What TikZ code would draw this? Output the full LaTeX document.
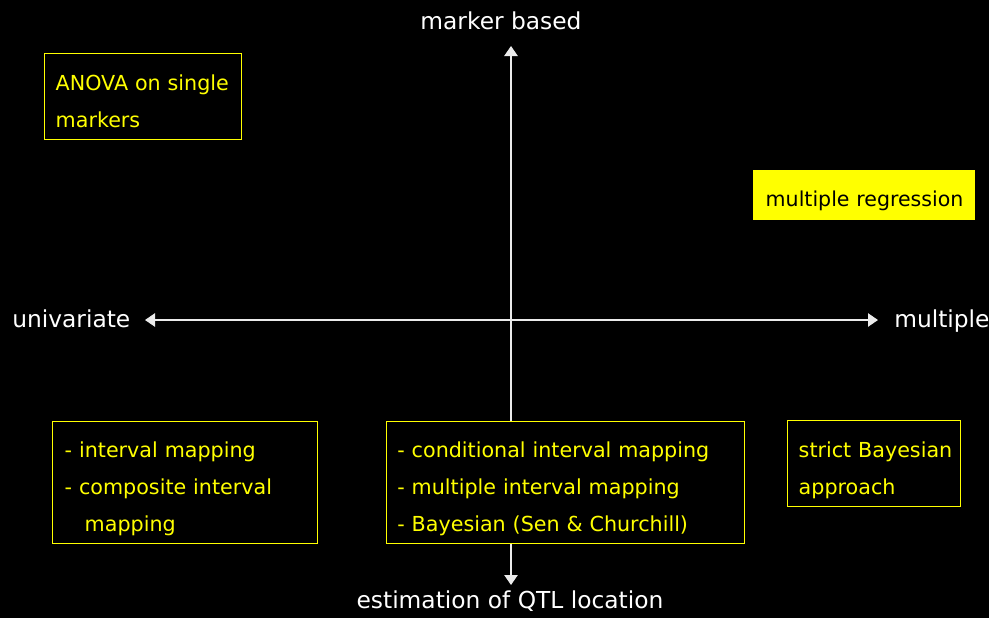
\documentclass[tikz,border=0pt]{standalone}
\usepackage{fontspec}
\setmainfont{DejaVu Sans}
\usetikzlibrary{arrows.meta}
\definecolor{ylw}{RGB}{255,255,0}
\definecolor{axisgray}{RGB}{235,235,235}
\tikzset{
  axisline/.style={draw=axisgray, line width=1.1pt, {Triangle[width=10pt,length=7.5pt]}-{Triangle[width=10pt,length=7.5pt]}},
  axislabel/.style={text=white, inner sep=0pt, font=\fontsize{17.5pt}{20pt}\selectfont},
  ybox/.style={draw=ylw, line width=1.1pt, fill=black, text=ylw, anchor=north west, align=left,
    inner ysep=0pt, font=\fontsize{15.5pt}{27.5pt}\selectfont},
  yfill/.style={draw=ylw, line width=1.1pt, fill=ylw, text=black, anchor=north west, align=left,
    inner ysep=0pt, font=\fontsize{15.4pt}{27.5pt}\selectfont}
}
\begin{document}
\begin{tikzpicture}[x=0.75pt,y=-0.75pt]
  \fill[black] (0,0) rectangle (989,618);
  \useasboundingbox (0,0) rectangle (989,618);

  % axes
  \coordinate (N) at (511,46);
  \coordinate (S) at (511,585);
  \coordinate (W) at (145,320);
  \coordinate (E) at (878,320);
  \draw[axisline] (S) -- (N);
  \draw[axisline] (W) -- (E);

  % axis labels
  \node[axislabel, anchor=base] (top) at (501,29) {marker based};
  \node[axislabel, anchor=base west] (left) at (12,327) {univariate};
  \node[axislabel, anchor=base west] (right) at (894,327) {multiple};
  \node[axislabel, anchor=base] (bottom) at (510,608) {estimation of QTL location};

  % boxes
  \node[ybox, inner xsep=8.25pt, text width=131.25pt, text height=27.75pt, text depth=36.75pt]
    (anova) at (44,53) {\mbox{ANOVA on single}\\markers};
  \node[yfill, inner xsep=9pt, text width=147.75pt, text height=27pt, text depth=9.75pt]
    (multreg) at (753,170) {\mbox{multiple regression}};
  \node[ybox, inner xsep=9pt, text width=180.75pt, text height=27pt, text depth=64.5pt]
    (leftbox) at (52,421) {\mbox{- interval mapping}\\\mbox{- composite interval}\\\hspace*{15pt}mapping};
  \node[ybox, inner xsep=8pt, text width=252.5pt, text height=27pt, text depth=64.5pt]
    (midbox) at (386,421) {\mbox{- conditional interval mapping}\\\mbox{- multiple interval mapping}\\\mbox{- Bayesian (Sen \& Churchill)}};
  \node[ybox, inner xsep=8.25pt, text width=113.25pt, text height=27.75pt, text depth=36.75pt]
    (rightbox) at (787,420) {\mbox{strict Bayesian}\\approach};
\end{tikzpicture}
\end{document}
